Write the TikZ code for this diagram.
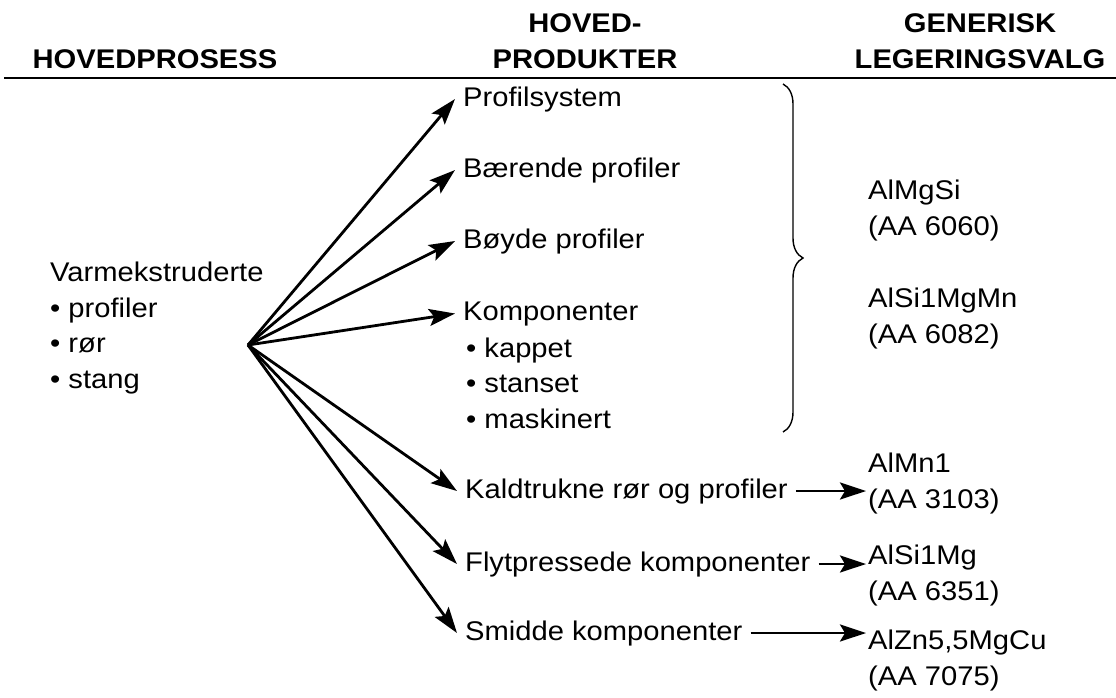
\documentclass[tikz,border=0pt]{standalone}
\usepackage{fontspec}
\setmainfont[FakeStretch=1.08]{Liberation Sans}
\usetikzlibrary{arrows.meta,decorations.pathreplacing}

\begin{document}
\begin{tikzpicture}[x=1pt,y=-1pt,
  head/.style={inner sep=0pt,anchor=base,align=center,font=\fontsize{27}{36}\selectfont\bfseries},
  txt/.style={inner ysep=0pt,inner xsep=8pt,anchor=base west,align=left,font=\fontsize{27}{35.5}\selectfont},
  alloy/.style={txt,inner xsep=2pt},
  arr/.style={line width=2.8pt,-{Stealth[length=26pt,width=17pt,inset=5pt]}}]
\useasboundingbox (0,0) rectangle (1116,697);

% column heads (base = last line)
\node[head] at (155,68) (hproc) {HOVEDPROSESS};
\node[head] at (585,68) (hprod) {HOVED-\\PRODUKTER};
\node[head] at (980,68) (halloy) {GENERISK\\LEGERINGSVALG};
\coordinate (rulel) at (4,78);
\coordinate (ruler) at (1116,78);
\draw[line width=2.6pt] (rulel) -- (ruler);

% process
\node[txt] at (42,388) (proc) {Varmekstruderte\\• profiler\\• rør\\• stang};
\coordinate (hub) at (248,345);

% products
\node[txt] at (455,106) (prof) {Profilsystem};
\node[txt] at (455,177) (baer) {Bærende profiler};
\node[txt] at (455,248) (boyd) {Bøyde profiler};
\node[txt] at (455,320) (komp) {Komponenter};
\node[txt] at (458,428) (kliste) {• kappet\\• stanset\\• maskinert};
\node[txt] at (457,498) (kald) {Kaldtrukne rør og profiler};
\node[txt] at (457,571) (flyt) {Flytpressede komponenter};
\node[txt] at (457,640) (smid) {Smidde komponenter};

% alloys
\node[alloy] at (866,235) (mgsi) {AlMgSi\\(AA 6060)};
\node[alloy] at (866,343) (simgmn) {AlSi1MgMn\\(AA 6082)};
\node[alloy] at (866,508) (almn) {AlMn1\\(AA 3103)};
\node[alloy] at (866,600) (alsimg) {AlSi1Mg\\(AA 6351)};
\node[alloy] at (866,685) (alzn) {AlZn5,5MgCu\\(AA 7075)};

\coordinate (btop) at (783,84);
\coordinate (bbot) at (783,432);
\draw[line width=1.4pt,decorate,decoration={brace,amplitude=20pt}] (btop) -- (bbot);

\draw[arr] (hub) -- (prof.west);
\draw[arr] (hub) -- (baer.west);
\draw[arr] (hub) -- (boyd.west);
\draw[arr] (hub) -- (komp.west);
\draw[arr] (hub) -- (kald.west);
\draw[arr] (hub) -- (flyt.west);
\draw[arr] (hub) -- (smid.west);

\draw[arr] (kald.east) -- (kald.east -| almn.west);
\draw[arr] (flyt.east) -- (flyt.east -| alsimg.west);
\draw[arr] (smid.east) -- (smid.east -| alzn.west);
\end{tikzpicture}
\end{document}
